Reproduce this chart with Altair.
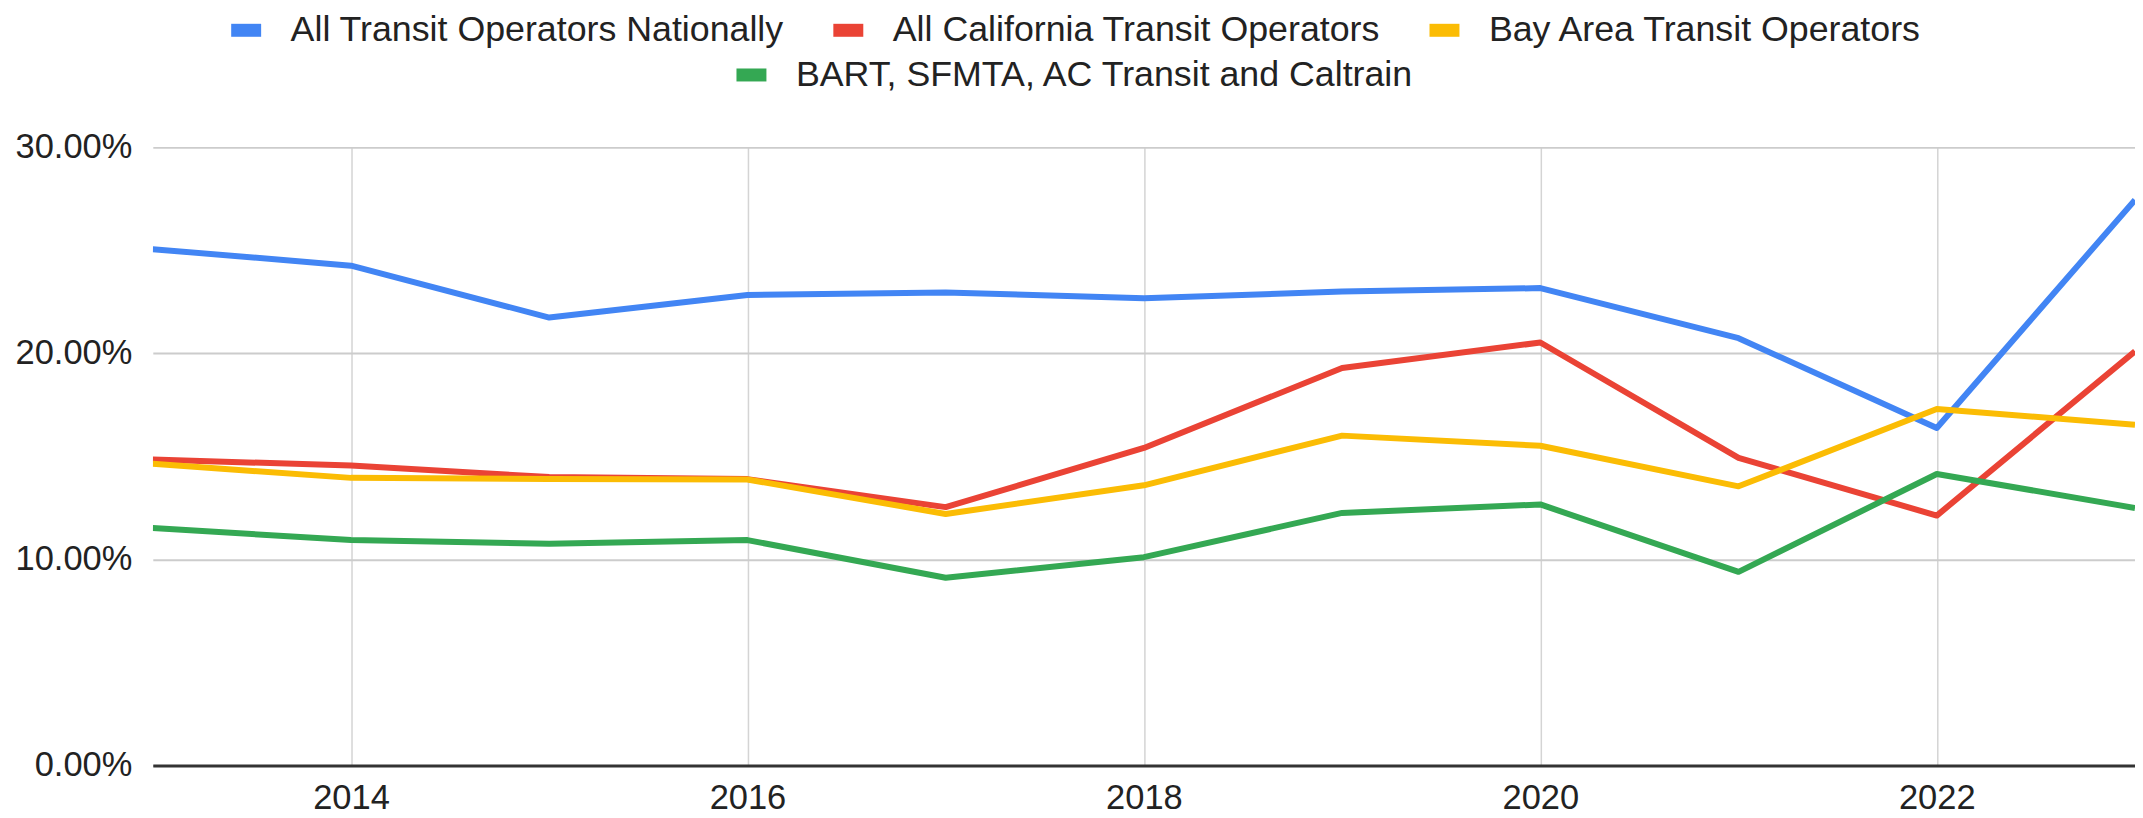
import altair as alt
import pandas as pd

years = [2013, 2014, 2015, 2016, 2017, 2018, 2019, 2020, 2021, 2022, 2023]
series_names = [
    "All Transit Operators Nationally",
    "All California Transit Operators",
    "Bay Area Transit Operators",
    "BART, SFMTA, AC Transit and Caltrain",
]
national = [25.06, 24.26, 21.74, 22.84, 22.96, 22.68, 23.00, 23.17, 20.74, 16.38, 27.45]
california = [14.85, 14.56, 14.00, 13.90, 12.54, 15.41, 19.29, 20.53, 14.93, 12.13, 20.10]
bay_area = [14.64, 13.96, 13.90, 13.88, 12.21, 13.60, 16.01, 15.52, 13.55, 17.30, 16.54]
big_four = [11.53, 10.94, 10.76, 10.94, 9.11, 10.11, 12.26, 12.67, 9.40, 14.15, 12.50]
colors = ["#4285F4", "#EA4335", "#FBBC04", "#34A853"]
x_ticks = [2014, 2016, 2018, 2020, 2022]
y_ticks = [0.0, 0.1, 0.2, 0.3]

rows = []
for name, vals in zip(series_names, [national, california, bay_area, big_four]):
    for yr, v in zip(years, vals):
        rows.append({"year": yr, "value": v / 100.0, "series": name})
df = pd.DataFrame(rows)

FONT = "Liberation Sans"

x_enc = alt.X(
    "year:Q",
    scale=alt.Scale(domain=[2013, 2023], nice=False, zero=False),
    axis=alt.Axis(
        values=x_ticks, format="d", title=None, ticks=False,
        labelFontSize=34.5, labelFont=FONT, labelColor="#222222", labelPadding=16,
        domain=True, domainColor="#333333", domainWidth=3,
        grid=True, gridColor="#d4d4d4", gridWidth=1.5,
    ),
)
y_enc = alt.Y(
    "value:Q",
    scale=alt.Scale(domain=[0, 0.3], nice=False),
    axis=alt.Axis(
        values=y_ticks, format=".2%", title=None, ticks=False, domain=False,
        labelFontSize=34.5, labelFont=FONT, labelColor="#222222", labelPadding=21,
        grid=True, gridColor="#cccccc", gridWidth=2,
    ),
)

first3 = df[df["series"] != series_names[3]]
last1 = df[df["series"] == series_names[3]]

legend_common = dict(
    title=None, orient="none", direction="horizontal",
    symbolType="stroke", symbolSize=900, symbolStrokeWidth=13,
    labelFontSize=35.8, labelFont=FONT, labelColor="#222222",
    labelOffset=23, columnPadding=22, labelLimit=1000,
)

lines_a = alt.Chart(first3).mark_line(strokeWidth=6, strokeJoin="round", clip=True).encode(
    x=x_enc,
    y=y_enc,
    color=alt.Color(
        "series:N",
        scale=alt.Scale(domain=series_names[:3], range=colors[:3]),
        legend=alt.Legend(legendX=72, legendY=-139, **legend_common),
        sort=series_names[:3],
    ),
    order=alt.Order("year:Q"),
)

lines_b = alt.Chart(last1).mark_line(strokeWidth=6, strokeJoin="round", clip=True).encode(
    x=x_enc,
    y=y_enc,
    stroke=alt.Stroke(
        "series:N",
        scale=alt.Scale(domain=series_names[3:], range=colors[3:]),
        legend=alt.Legend(legendX=578, legendY=-94, **legend_common),
    ),
    order=alt.Order("year:Q"),
)

chart = alt.layer(lines_a, lines_b).resolve_scale(
    color="independent", stroke="independent"
).properties(
    width=1985,
    height=619,
    padding={"left": 145, "top": 139, "right": 0, "bottom": 55},
    autosize=alt.AutoSizeParams(type="none"),
    background="white",
).configure_view(strokeWidth=0)

chart.save("out.html", embed_options={"renderer": "svg", "actions": False})
